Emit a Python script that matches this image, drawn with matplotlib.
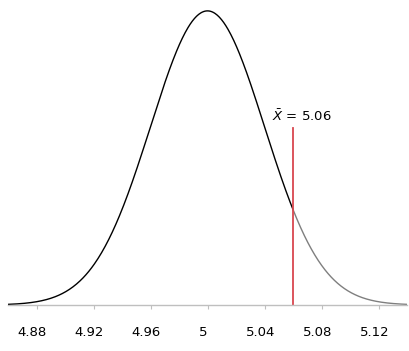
import numpy as np
import matplotlib
matplotlib.use("Agg")
import matplotlib.pyplot as plt
import matplotlib.transforms as mtransforms

# Distribution parameters
mu = 5.0
sigma = 0.04
x_bar = 5.06
x_min, x_max = 4.86, 5.14
tick_values = [4.88, 4.92, 4.96, 5.00, 5.04, 5.08, 5.12]
tick_labels = ["4.88", "4.92", "4.96", "5", "5.04", "5.08", "5.12"]
annot_text = r"$\bar{X}$ = 5.06"

def pdf(x):
    return np.exp(-0.5 * ((x - mu) / sigma) ** 2) / (sigma * np.sqrt(2 * np.pi))

fig = plt.figure(figsize=(4.09, 3.51), dpi=100)
ax = fig.add_axes([8 / 409, (351 - 305) / 351, 399 / 409, 295 / 351])

x_left = np.linspace(x_min, x_bar, 400)
x_right = np.linspace(x_bar, x_max, 300)
ax.plot(x_left, pdf(x_left), color="black", lw=1.0)
ax.plot(x_right, pdf(x_right), color="#7f7f7f", lw=1.0)

peak = pdf(mu)
ax.set_xlim(x_min, x_max)
ax.set_ylim(0, peak * 1.003)

# red line at sample mean
ax.plot([x_bar, x_bar], [0, peak * (305 - 127) / 295], color="#d9474f", lw=1.3)
ax.text(x_bar + 0.0065, peak * (305 - 116) / 295, annot_text, ha="center", va="center",
        fontsize=9.5, family="DejaVu Sans")

for s in ["top", "right", "left"]:
    ax.spines[s].set_visible(False)
ax.spines["bottom"].set_color("#bfbfbf")
ax.spines["bottom"].set_linewidth(1.0)
ax.set_yticks([])
ax.set_xticks(tick_values)
ax.set_xticklabels(tick_labels, fontsize=9.5, family="DejaVu Sans")
ax.tick_params(axis="x", direction="out", length=3, color="#bfbfbf", pad=12)
offset = mtransforms.ScaledTranslation(-4 / 100, 0, fig.dpi_scale_trans)
for lab in ax.get_xticklabels():
    lab.set_transform(lab.get_transform() + offset)
ax.patch.set_alpha(0)

fig.savefig("out.png", dpi=100)
